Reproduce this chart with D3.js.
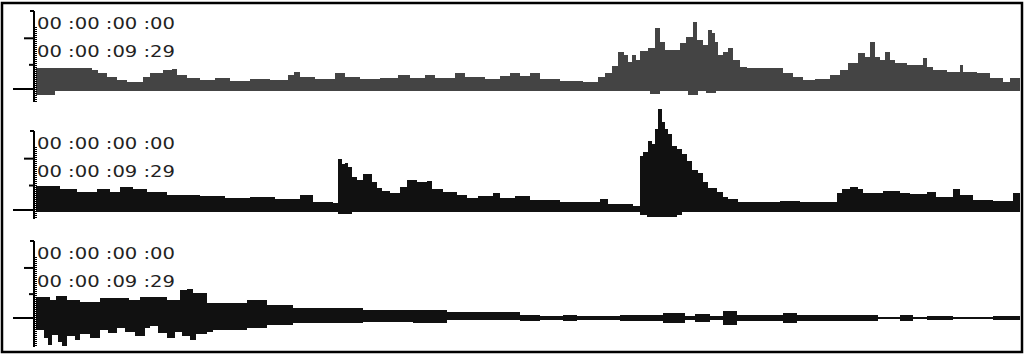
<!DOCTYPE html>
<html>
<head>
<meta charset="utf-8">
<script src="https://cdn.jsdelivr.net/npm/d3@7"></script>
<style>
  body { margin: 0; background: #fff; }
  svg { display: block; }
</style>
</head>
<body>
<div id="chart"></div>
<script>
// Timecode labels shown at the top of every track
var startCode = "00 :00 :00 :00";
var endCode = "00 :00 :09 :29";
var duration = 10; // seconds

// Track 1 envelope: [time (s), level (% of full scale)]
var waveAUpper = [
  [0.00,27],[0.57,24],[0.63,20],[0.72,15],[0.82,12],[0.92,9],[1.09,15],[1.16,20],[1.29,24],[1.38,26],
  [1.43,18],[1.53,14],[1.67,12],[1.82,14],[1.97,10],[2.17,13],[2.38,12],[2.56,18],[2.62,22],[2.68,15],
  [2.84,13],[3.04,20],[3.14,15],[3.29,13],[3.50,14],[3.68,18],[3.80,14],[3.95,18],[4.05,14],[4.26,20],
  [4.36,15],[4.56,13],[4.72,17],[4.82,20],[4.92,17],[5.02,20],[5.12,13],[5.33,10],[5.56,9],[5.71,15],
  [5.78,20],[5.85,29],[5.91,47],[5.98,44],[6.02,35],[6.06,44],[6.10,37],[6.14,49],[6.22,52],[6.29,78],
  [6.34,60],[6.39,50],[6.54,59],[6.61,67],[6.68,86],[6.72,63],[6.78,56],[6.83,76],[6.87,72],[6.90,60],
  [6.93,44],[6.98,47],[7.03,53],[7.08,37],[7.15,28],[7.23,27],[7.59,20],[7.69,15],[7.79,12],[7.92,13],
  [8.07,18],[8.17,24],[8.25,33],[8.35,46],[8.42,41],[8.48,60],[8.53,41],[8.58,37],[8.63,47],[8.68,37],
  [8.73,33],[8.85,31],[9.01,40],[9.05,28],[9.12,24],[9.26,22],[9.39,31],[9.42,22],[9.56,20],[9.70,14],
  [9.83,9],[9.90,14]
];
var waveALower = [
  [0.00,8],[0.19,3],[6.24,6],[6.34,3],[6.63,8],[6.73,3],[6.81,5],[6.91,3]
];

// Track 2 envelope
var waveBUpper = [
  [0.00,31],[0.24,26],[0.42,23],[0.62,26],[0.75,23],[0.85,29],[0.99,27],[1.13,23],[1.33,19],[1.67,18],
  [1.92,15],[2.17,17],[2.43,14],[2.68,19],[2.82,10],[3.02,9],[3.07,64],[3.11,58],[3.14,59],[3.17,54],
  [3.21,42],[3.26,38],[3.32,45],[3.41,36],[3.47,28],[3.52,24],[3.60,22],[3.70,29],[3.77,38],[3.87,35],
  [3.97,37],[4.02,26],[4.14,23],[4.28,19],[4.38,15],[4.49,18],[4.64,22],[4.72,15],[4.87,18],[5.02,13],
  [5.33,10],[5.73,14],[5.81,8],[6.07,5],[6.14,68],[6.17,74],[6.22,87],[6.26,83],[6.29,103],[6.32,128],
  [6.36,112],[6.39,103],[6.42,96],[6.46,81],[6.51,77],[6.57,71],[6.62,62],[6.67,51],[6.73,47],[6.78,36],
  [6.83,28],[6.92,23],[6.98,17],[7.03,14],[7.13,10],[7.56,12],[7.76,10],[8.14,22],[8.19,26],[8.27,29],
  [8.35,26],[8.40,22],[8.61,24],[8.78,22],[8.88,20],[9.05,23],[9.15,17],[9.32,26],[9.39,19],[9.52,13],
  [9.73,12],[9.93,22]
];
var waveBLower = [
  [0.00,3],[3.07,5],[3.21,3],[6.14,6],[6.21,9],[6.51,6],[6.57,3]
];

// Track 3 envelope
var waveCUpper = [
  [0.00,27],[0.14,23],[0.20,28],[0.32,23],[0.45,21],[0.65,26],[0.82,26],[0.95,23],[1.06,27],[1.16,27],
  [1.33,23],[1.46,36],[1.53,38],[1.60,32],[1.74,19],[1.80,20],[2.14,23],[2.35,17],[2.61,13],[3.32,10],
  [3.83,10],[4.18,8],[4.92,4],[5.12,3],[5.36,4],[5.50,3],[5.93,4],[6.37,6],[6.60,3],[6.70,5],
  [6.85,3],[6.98,9],[7.12,4],[7.59,6],[7.73,4],[8.56,1.5],[8.78,4],[8.91,1.5],[9.05,3],[9.32,1.5],
  [9.73,3]
];
var waveCLower = [
  [0.00,15],[0.08,26],[0.12,35],[0.16,22],[0.22,31],[0.26,37],[0.32,23],[0.40,28],[0.45,21],[0.55,26],
  [0.65,15],[0.73,19],[0.82,13],[0.90,18],[1.01,23],[1.11,13],[1.16,10],[1.24,19],[1.33,26],[1.41,18],
  [1.48,23],[1.57,28],[1.63,21],[1.74,18],[1.80,15],[2.14,13],[2.35,9],[2.61,6],[3.32,5],[3.83,6],
  [4.18,3],[4.92,4],[5.12,3],[5.36,4],[5.50,3],[5.93,4],[6.37,6],[6.60,3],[6.70,5],[6.85,3],
  [6.98,9],[7.12,4],[7.59,6],[7.73,4],[8.56,1.5],[8.78,4],[8.91,1.5],[9.05,3],[9.32,1.5],[9.73,3]
];

// Major tick levels (% of full scale) and how far each tick reaches left
var majorTicks = [100, 65, 31, 0];
var tickLengths = [4, 10, 5, 21];

var width = 1025, height = 355;

var svg = d3.select("#chart").append("svg")
  .attr("width", width)
  .attr("height", height);

// outer frame
svg.append("rect")
  .attr("x", 2).attr("y", 3)
  .attr("width", 1020).attr("height", 349)
  .attr("fill", "none")
  .attr("stroke", "#000")
  .attr("stroke-width", 2.5);

var x = d3.scaleLinear().domain([0, duration]).range([36, 1020]);

var tracks = [
  {upper: waveAUpper, lower: waveALower, fill: "#444444", top: 11, base: 89, bottom: 102},
  {upper: waveBUpper, lower: waveBLower, fill: "#111111", top: 131, base: 210, bottom: 219},
  {upper: waveCUpper, lower: waveCLower, fill: "#111111", top: 241, base: 318, bottom: 347}
];

// close a stepped series at the end of the clip
function closeSeries(s) {
  return s.concat([[duration, s[s.length - 1][1]]]);
}

tracks.forEach(function(t) {
  var lo = -100 * (t.bottom - t.base) / (t.base - t.top);
  var y = d3.scaleLinear().domain([lo, 100]).range([t.bottom, t.top]);

  var g = svg.append("g");

  // waveform, upper half
  g.append("path")
    .datum(closeSeries(t.upper))
    .attr("fill", t.fill)
    .attr("shape-rendering", "crispEdges")
    .attr("d", d3.area()
      .curve(d3.curveStepAfter)
      .x(function(d) { return x(d[0]); })
      .y0(y(0))
      .y1(function(d) { return y(d[1]); }));

  // waveform, lower half
  g.append("path")
    .datum(closeSeries(t.lower))
    .attr("fill", t.fill)
    .attr("shape-rendering", "crispEdges")
    .attr("d", d3.area()
      .curve(d3.curveStepAfter)
      .x(function(d) { return x(d[0]); })
      .y0(y(0) - 1)
      .y1(function(d) { return y(-d[1]); }));

  // level axis with uneven tick lengths
  var ax = g.append("g")
    .attr("transform", "translate(34,0)")
    .call(d3.axisLeft(y).tickValues(majorTicks).tickFormat("").tickSizeOuter(0).offset(0));
  ax.select(".domain").attr("stroke", "#000").attr("stroke-width", 2);
  ax.selectAll(".tick line")
    .attr("x2", function(d, i) { return -tickLengths[i]; })
    .attr("stroke", "#000")
    .attr("stroke-width", 2);

  // minor dotted ticks on the right of the axis
  var step = 200 / (t.base - t.top);
  var minor = d3.range(100 - 16 * 100 / (t.base - t.top), lo, -step);
  var mx = g.append("g")
    .attr("transform", "translate(35,0)")
    .call(d3.axisRight(y).tickValues(minor).tickFormat("").tickSize(2).tickSizeOuter(0).offset(0));
  mx.select(".domain").remove();
  mx.selectAll(".tick line").attr("stroke", "#000").attr("shape-rendering", "crispEdges");

  // timecode labels
  [startCode, endCode].forEach(function(label, i) {
    g.append("text")
      .attr("x", 37)
      .attr("y", t.top + 18 + i * 28)
      .attr("textLength", 138)
      .attr("lengthAdjust", "spacingAndGlyphs")
      .style("font", "16px 'DejaVu Sans', sans-serif")
      .attr("fill", "#222")
      .text(label);
  });
});
</script>
</body>
</html>
